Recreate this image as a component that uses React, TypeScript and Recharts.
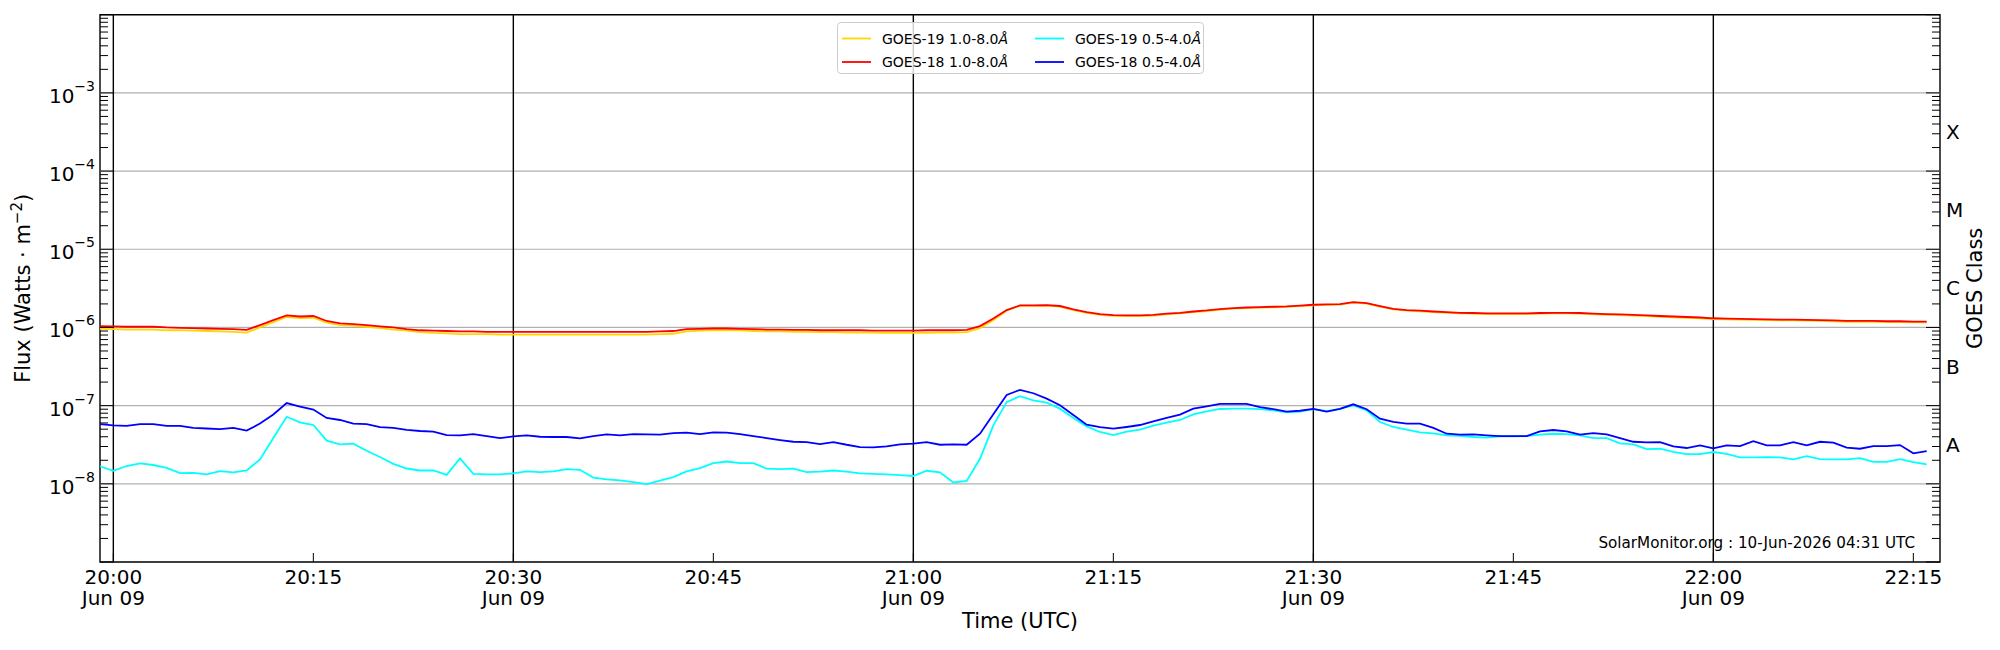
import React from "react";
import { LineChart, Line, XAxis, YAxis, ReferenceLine, ReferenceArea, Legend } from "recharts";

const FONT = "'DejaVu Sans', Verdana, sans-serif";

// Sample times (UTC, 09 Jun), 1-minute cadence
const TIMES = [
  "19:59",
  "20:00", "20:01", "20:02", "20:03", "20:04", "20:05", "20:06", "20:07", "20:08", "20:09",
  "20:10", "20:11", "20:12", "20:13", "20:14", "20:15", "20:16", "20:17", "20:18", "20:19",
  "20:20", "20:21", "20:22", "20:23", "20:24", "20:25", "20:26", "20:27", "20:28", "20:29",
  "20:30", "20:31", "20:32", "20:33", "20:34", "20:35", "20:36", "20:37", "20:38", "20:39",
  "20:40", "20:41", "20:42", "20:43", "20:44", "20:45", "20:46", "20:47", "20:48", "20:49",
  "20:50", "20:51", "20:52", "20:53", "20:54", "20:55", "20:56", "20:57", "20:58", "20:59",
  "21:00", "21:01", "21:02", "21:03", "21:04", "21:05", "21:06", "21:07", "21:08", "21:09",
  "21:10", "21:11", "21:12", "21:13", "21:14", "21:15", "21:16", "21:17", "21:18", "21:19",
  "21:20", "21:21", "21:22", "21:23", "21:24", "21:25", "21:26", "21:27", "21:28", "21:29",
  "21:30", "21:31", "21:32", "21:33", "21:34", "21:35", "21:36", "21:37", "21:38", "21:39",
  "21:40", "21:41", "21:42", "21:43", "21:44", "21:45", "21:46", "21:47", "21:48", "21:49",
  "21:50", "21:51", "21:52", "21:53", "21:54", "21:55", "21:56", "21:57", "21:58", "21:59",
  "22:00", "22:01", "22:02", "22:03", "22:04", "22:05", "22:06", "22:07", "22:08", "22:09",
  "22:10", "22:11", "22:12", "22:13", "22:14", "22:15", "22:16",
];

// GOES-19 1.0-8.0 Å (W m^-2)
const GOES19_LONG = [
  9.6e-7, 9.5e-7, 9.4e-7, 9.4e-7, 9.4e-7, 9.2e-7, 9.15e-7, 9.1e-7, 9.0e-7, 8.9e-7,
  8.8e-7, 8.6e-7, 1.0e-6, 1.17e-6, 1.36e-6, 1.32e-6, 1.33e-6, 1.15e-6, 1.07e-6, 1.05e-6,
  1.02e-6, 9.8e-7, 9.4e-7, 9.1e-7, 8.7e-7, 8.5e-7, 8.4e-7, 8.2e-7, 8.2e-7, 8.2e-7,
  8.1e-7, 8.1e-7, 8.1e-7, 8.1e-7, 8.1e-7, 8.1e-7, 8.1e-7, 8.1e-7, 8.1e-7, 8.1e-7,
  8.1e-7, 8.1e-7, 8.2e-7, 8.3e-7, 8.9e-7, 9.1e-7, 9.2e-7, 9.2e-7, 9.15e-7, 9.0e-7,
  8.9e-7, 8.9e-7, 8.8e-7, 8.8e-7, 8.7e-7, 8.7e-7, 8.6e-7, 8.6e-7, 8.6e-7, 8.5e-7,
  8.5e-7, 8.5e-7, 8.5e-7, 8.6e-7, 8.6e-7, 8.7e-7, 9.8e-7, 1.24e-6, 1.64e-6, 1.9e-6,
  1.89e-6, 1.9e-6, 1.85e-6, 1.67e-6, 1.54e-6, 1.45e-6, 1.41e-6, 1.4e-6, 1.4e-6, 1.42e-6,
  1.47e-6, 1.51e-6, 1.57e-6, 1.62e-6, 1.69e-6, 1.74e-6, 1.77e-6, 1.79e-6, 1.81e-6, 1.83e-6,
  1.87e-6, 1.92e-6, 1.94e-6, 1.96e-6, 2.08e-6, 2.02e-6, 1.85e-6, 1.7e-6, 1.64e-6, 1.61e-6,
  1.57e-6, 1.54e-6, 1.51e-6, 1.5e-6, 1.48e-6, 1.48e-6, 1.48e-6, 1.48e-6, 1.5e-6, 1.51e-6,
  1.51e-6, 1.5e-6, 1.47e-6, 1.45e-6, 1.44e-6, 1.42e-6, 1.4e-6, 1.37e-6, 1.35e-6, 1.33e-6,
  1.31e-6, 1.28e-6, 1.27e-6, 1.26e-6, 1.25e-6, 1.24e-6, 1.23e-6, 1.23e-6, 1.22e-6, 1.21e-6,
  1.2e-6, 1.18e-6, 1.18e-6, 1.18e-6, 1.17e-6, 1.17e-6, 1.16e-6, 1.16e-6,
];

// GOES-18 1.0-8.0 Å (W m^-2)
const GOES18_LONG = [
  1.04e-6, 1.03e-6, 1.02e-6, 1.02e-6, 1.02e-6, 1.0e-6, 9.9e-7, 9.8e-7, 9.7e-7, 9.6e-7,
  9.5e-7, 9.3e-7, 1.07e-6, 1.24e-6, 1.43e-6, 1.38e-6, 1.4e-6, 1.21e-6, 1.13e-6, 1.1e-6,
  1.07e-6, 1.03e-6, 1.0e-6, 9.5e-7, 9.2e-7, 9.1e-7, 9.0e-7, 8.9e-7, 8.9e-7, 8.8e-7,
  8.8e-7, 8.8e-7, 8.8e-7, 8.8e-7, 8.8e-7, 8.8e-7, 8.8e-7, 8.8e-7, 8.8e-7, 8.8e-7,
  8.8e-7, 8.8e-7, 8.9e-7, 9.0e-7, 9.5e-7, 9.6e-7, 9.7e-7, 9.7e-7, 9.6e-7, 9.5e-7,
  9.4e-7, 9.4e-7, 9.3e-7, 9.3e-7, 9.2e-7, 9.2e-7, 9.2e-7, 9.2e-7, 9.1e-7, 9.1e-7,
  9.1e-7, 9.1e-7, 9.2e-7, 9.2e-7, 9.2e-7, 9.3e-7, 1.04e-6, 1.3e-6, 1.67e-6, 1.91e-6,
  1.91e-6, 1.93e-6, 1.88e-6, 1.7e-6, 1.57e-6, 1.48e-6, 1.44e-6, 1.43e-6, 1.43e-6, 1.45e-6,
  1.5e-6, 1.54e-6, 1.6e-6, 1.65e-6, 1.72e-6, 1.77e-6, 1.8e-6, 1.82e-6, 1.84e-6, 1.86e-6,
  1.9e-6, 1.95e-6, 1.97e-6, 1.99e-6, 2.11e-6, 2.05e-6, 1.88e-6, 1.73e-6, 1.67e-6, 1.64e-6,
  1.6e-6, 1.57e-6, 1.54e-6, 1.53e-6, 1.51e-6, 1.51e-6, 1.51e-6, 1.51e-6, 1.53e-6, 1.54e-6,
  1.54e-6, 1.53e-6, 1.5e-6, 1.48e-6, 1.47e-6, 1.45e-6, 1.43e-6, 1.4e-6, 1.38e-6, 1.36e-6,
  1.34e-6, 1.31e-6, 1.3e-6, 1.29e-6, 1.28e-6, 1.27e-6, 1.26e-6, 1.26e-6, 1.25e-6, 1.24e-6,
  1.23e-6, 1.21e-6, 1.21e-6, 1.21e-6, 1.2e-6, 1.2e-6, 1.19e-6, 1.19e-6,
];

// GOES-19 0.5-4.0 Å (W m^-2)
const GOES19_SHORT = [
  1.67e-8, 1.47e-8, 1.69e-8, 1.82e-8, 1.74e-8, 1.6e-8, 1.37e-8, 1.38e-8, 1.32e-8, 1.45e-8,
  1.4e-8, 1.48e-8, 2.05e-8, 3.85e-8, 7.2e-8, 6.1e-8, 5.65e-8, 3.56e-8, 3.2e-8, 3.26e-8,
  2.65e-8, 2.2e-8, 1.8e-8, 1.57e-8, 1.48e-8, 1.48e-8, 1.3e-8, 2.11e-8, 1.34e-8, 1.32e-8,
  1.32e-8, 1.36e-8, 1.44e-8, 1.41e-8, 1.44e-8, 1.54e-8, 1.51e-8, 1.2e-8, 1.14e-8, 1.11e-8,
  1.05e-8, 9.9e-9, 1.1e-8, 1.22e-8, 1.44e-8, 1.59e-8, 1.84e-8, 1.93e-8, 1.84e-8, 1.84e-8,
  1.56e-8, 1.54e-8, 1.56e-8, 1.41e-8, 1.43e-8, 1.48e-8, 1.43e-8, 1.36e-8, 1.34e-8, 1.32e-8,
  1.29e-8, 1.26e-8, 1.47e-8, 1.4e-8, 1.04e-8, 1.09e-8, 2.09e-8, 5.6e-8, 1.11e-7, 1.32e-7,
  1.17e-7, 1.09e-7, 9.15e-8, 6.95e-8, 5.43e-8, 4.6e-8, 4.21e-8, 4.64e-8, 4.93e-8, 5.54e-8,
  6.06e-8, 6.55e-8, 7.74e-8, 8.46e-8, 9.06e-8, 9.15e-8, 9.15e-8, 9.0e-8, 8.7e-8, 8.2e-8,
  8.4e-8, 9.0e-8, 8.5e-8, 9.06e-8, 1.01e-7, 8.7e-8, 6.17e-8, 5.33e-8, 4.93e-8, 4.55e-8,
  4.42e-8, 4.17e-8, 4.12e-8, 3.97e-8, 3.89e-8, 4.04e-8, 4.04e-8, 4.08e-8, 4.25e-8, 4.37e-8,
  4.33e-8, 4.17e-8, 3.85e-8, 3.85e-8, 3.29e-8, 3.19e-8, 2.78e-8, 2.81e-8, 2.57e-8, 2.4e-8,
  2.4e-8, 2.55e-8, 2.42e-8, 2.18e-8, 2.18e-8, 2.2e-8, 2.18e-8, 2.05e-8, 2.26e-8, 2.07e-8,
  2.05e-8, 2.05e-8, 2.13e-8, 1.91e-8, 1.91e-8, 2.07e-8, 1.89e-8, 1.77e-8,
];

// GOES-18 0.5-4.0 Å (W m^-2)
const GOES18_SHORT = [
  5.8e-8, 5.6e-8, 5.5e-8, 5.8e-8, 5.8e-8, 5.5e-8, 5.5e-8, 5.2e-8, 5.1e-8, 5.0e-8,
  5.2e-8, 4.8e-8, 5.9e-8, 7.7e-8, 1.08e-7, 9.7e-8, 8.9e-8, 6.95e-8, 6.55e-8, 5.9e-8,
  5.8e-8, 5.3e-8, 5.2e-8, 4.9e-8, 4.74e-8, 4.64e-8, 4.2e-8, 4.17e-8, 4.33e-8, 4.08e-8,
  3.85e-8, 4.04e-8, 4.17e-8, 4.0e-8, 3.97e-8, 3.97e-8, 3.81e-8, 4.08e-8, 4.29e-8, 4.17e-8,
  4.33e-8, 4.29e-8, 4.25e-8, 4.46e-8, 4.51e-8, 4.33e-8, 4.55e-8, 4.51e-8, 4.33e-8, 4.08e-8,
  3.85e-8, 3.63e-8, 3.45e-8, 3.42e-8, 3.22e-8, 3.42e-8, 3.16e-8, 2.95e-8, 2.92e-8, 3.01e-8,
  3.19e-8, 3.26e-8, 3.42e-8, 3.16e-8, 3.19e-8, 3.16e-8, 4.37e-8, 7.74e-8, 1.37e-7, 1.59e-7,
  1.44e-7, 1.23e-7, 1.01e-7, 7.6e-8, 5.7e-8, 5.3e-8, 5.07e-8, 5.33e-8, 5.65e-8, 6.3e-8,
  6.95e-8, 7.67e-8, 9.15e-8, 9.8e-8, 1.05e-7, 1.05e-7, 1.05e-7, 9.6e-8, 9.0e-8, 8.4e-8,
  8.6e-8, 9.1e-8, 8.4e-8, 9.1e-8, 1.04e-7, 9.0e-8, 6.8e-8, 6.2e-8, 5.9e-8, 5.9e-8,
  5.2e-8, 4.37e-8, 4.25e-8, 4.29e-8, 4.17e-8, 4.08e-8, 4.08e-8, 4.08e-8, 4.69e-8, 4.88e-8,
  4.69e-8, 4.25e-8, 4.46e-8, 4.29e-8, 3.85e-8, 3.45e-8, 3.39e-8, 3.42e-8, 3.01e-8, 2.87e-8,
  3.1e-8, 2.84e-8, 3.1e-8, 3.04e-8, 3.52e-8, 3.1e-8, 3.1e-8, 3.42e-8, 3.1e-8, 3.45e-8,
  3.36e-8, 2.9e-8, 2.81e-8, 3.04e-8, 3.04e-8, 3.13e-8, 2.45e-8, 2.62e-8,
];

const SERIES = [
  { key: "g19l", name: "GOES-19 1.0-8.0Å", color: "#FFD700", values: GOES19_LONG },
  { key: "g18l", name: "GOES-18 1.0-8.0Å", color: "#FF0000", values: GOES18_LONG },
  { key: "g19s", name: "GOES-19 0.5-4.0Å", color: "#00FFFF", values: GOES19_SHORT },
  { key: "g18s", name: "GOES-18 0.5-4.0Å", color: "#0000FF", values: GOES18_SHORT },
];

// x axis: minutes after 20:00 UTC
const X_DOMAIN = [-1, 137];
const X_TICKS = [0, 15, 30, 45, 60, 75, 90, 105, 120, 135];
const X_TICK_LABELS = ["20:00", "20:15", "20:30", "20:45", "21:00", "21:15", "21:30", "21:45", "22:00", "22:15"];
const X_TICK_DATES = ["Jun 09", "", "Jun 09", "", "Jun 09", "", "Jun 09", "", "Jun 09", ""];
const DAY_LINES = [0, 30, 60, 90, 120];

// y axis (log)
const Y_DOMAIN = [1e-9, 1e-2];
const Y_MAJOR = [1e-9, 1e-8, 1e-7, 1e-6, 1e-5, 1e-4, 1e-3, 1e-2];
const Y_LABELLED = [1e-8, 1e-7, 1e-6, 1e-5, 1e-4, 1e-3];
const Y_LABEL_EXP = ["−8", "−7", "−6", "−5", "−4", "−3"];
const MINOR_MANTISSAS = [2, 3, 4, 5, 6, 7, 8, 9];
const Y_MINOR = Y_MAJOR.slice(0, -1).flatMap((d) => MINOR_MANTISSAS.map((m) => m * d));
const GOES_CLASSES = ["A", "B", "C", "M", "X"];
const GOES_CLASS_POS = [3.162e-8, 3.162e-7, 3.162e-6, 3.162e-5, 3.162e-4];

const LEFT_TICKS = [...Y_MAJOR, ...Y_MINOR];
const RIGHT_TICKS = [...Y_MAJOR, ...Y_MINOR, ...GOES_CLASS_POS];

const toMinutes = (s: string) => {
  const [h, m] = s.split(":").map(Number);
  return h * 60 + m - 20 * 60;
};

const DATA = TIMES.map((s, i) => {
  const row: Record<string, number> = { t: toMinutes(s) };
  SERIES.forEach((ser) => {
    row[ser.key] = ser.values[i];
  });
  return row;
});

const renderLeftTick = (props: any) => {
  const { x, y, payload } = props;
  const v = payload.value;
  const major = Y_MAJOR.includes(v);
  const li = Y_LABELLED.indexOf(v);
  return (
    <g>
      <line x1={x} x2={x + (major ? 14 : 8)} y1={y} y2={y} stroke="#000" strokeWidth={1} />
      {li >= 0 && (
        <text x={x - 5} y={y + 10} textAnchor="end" fontSize={20} fontFamily={FONT} fill="#000">
          10
          <tspan dy={-12} fontSize={14}>
            {Y_LABEL_EXP[li]}
          </tspan>
        </text>
      )}
    </g>
  );
};

const renderRightTick = (props: any) => {
  const { x, y, payload } = props;
  const v = payload.value;
  const ci = GOES_CLASS_POS.indexOf(v);
  if (ci >= 0) {
    return (
      <text x={x + 6} y={y} dominantBaseline="central" fontSize={20} fontFamily={FONT} fill="#000">
        {GOES_CLASSES[ci]}
      </text>
    );
  }
  const major = Y_MAJOR.includes(v);
  return <line x1={x - (major ? 14 : 8)} x2={x} y1={y} y2={y} stroke="#000" strokeWidth={1} />;
};

const renderBottomTick = (props: any) => {
  const { x, y, payload } = props;
  const i = X_TICKS.indexOf(payload.value);
  return (
    <g>
      <line x1={x} x2={x} y1={y} y2={y - 9} stroke="#000" strokeWidth={1} />
      <text x={x} y={y + 22} textAnchor="middle" fontSize={20} fontFamily={FONT} fill="#000">
        {X_TICK_LABELS[i]}
      </text>
      {X_TICK_DATES[i] && (
        <text x={x} y={y + 43} textAnchor="middle" fontSize={20} fontFamily={FONT} fill="#000">
          {X_TICK_DATES[i]}
        </text>
      )}
    </g>
  );
};

const renderTimeLabel = (props: any) => {
  const { x, y, width } = props.viewBox;
  return (
    <g>
      <text x={x + width / 2} y={y + 66} textAnchor="middle" fontSize={21} fontFamily={FONT} fill="#000">
        Time (UTC)
      </text>
      <text x={x + width - 25} y={y - 14} textAnchor="end" fontSize={15.2} fontFamily={FONT} fill="#000">
        SolarMonitor.org : 10-Jun-2026 04:31 UTC
      </text>
    </g>
  );
};

const renderFluxLabel = (props: any) => {
  const { x, y, height } = props.viewBox;
  const cx = x + 22;
  const cy = y + height / 2;
  return (
    <text
      x={cx}
      y={cy}
      transform={`rotate(-90 ${cx} ${cy})`}
      textAnchor="middle"
      fontSize={21}
      fontFamily={FONT}
      fill="#000"
    >
      Flux (Watts · m
      <tspan dy={-8} fontSize={15}>
        −2
      </tspan>
      <tspan dy={8}>)</tspan>
    </text>
  );
};

const renderClassLabel = (props: any) => {
  const { x, y, height } = props.viewBox;
  const cx = x + 42;
  const cy = y + height / 2;
  return (
    <text
      x={cx}
      y={cy}
      transform={`rotate(-90 ${cx} ${cy})`}
      textAnchor="middle"
      fontSize={21}
      fontFamily={FONT}
      fill="#000"
    >
      GOES Class
    </text>
  );
};

const LegendBox = () => {
  const cols = [4, 197];
  const rows = [15.5, 39];
  return (
    <div
      style={{
        width: 367,
        height: 52,
        boxSizing: "border-box",
        border: "1px solid #cccccc",
        borderRadius: 4,
        background: "rgba(255,255,255,0.8)",
        position: "relative",
      }}
    >
      <svg width={365} height={50} style={{ position: "absolute", left: 0, top: 0 }}>
        {SERIES.map((s, i) => {
          const cx = cols[Math.floor(i / 2)];
          const cy = rows[i % 2];
          const base = s.name.slice(0, -1);
          const unit = s.name.slice(-1);
          return (
            <g key={s.key}>
              <line x1={cx} x2={cx + 29} y1={cy} y2={cy} stroke={s.color} strokeWidth={1.8} />
              <text x={cx + 40} y={cy + 5} fontSize={14} fontFamily={FONT} fill="#000">
                {base}
                <tspan fontStyle="italic">{unit}</tspan>
              </text>
            </g>
          );
        })}
      </svg>
    </div>
  );
};

export default function App() {
  return (
    <div style={{ width: 1984, height: 630, fontFamily: FONT }}>
      <LineChart width={1984} height={630} data={DATA} margin={{ top: 6.7, right: 0, bottom: 0, left: 0 }}>
        <XAxis
          dataKey="t"
          type="number"
          domain={X_DOMAIN}
          allowDataOverflow
          ticks={X_TICKS}
          interval={0}
          tickSize={0}
          tickMargin={0}
          tickLine={false}
          axisLine={false}
          height={76}
          tick={renderBottomTick}
          label={renderTimeLabel}
        />
        <YAxis
          yAxisId="left"
          orientation="left"
          type="number"
          scale="log"
          domain={Y_DOMAIN}
          allowDataOverflow
          ticks={LEFT_TICKS}
          interval={0}
          tickSize={0}
          tickMargin={0}
          tickLine={false}
          axisLine={false}
          width={92}
          tick={renderLeftTick}
          label={renderFluxLabel}
        />
        <YAxis
          yAxisId="right"
          orientation="right"
          type="number"
          scale="log"
          domain={Y_DOMAIN}
          allowDataOverflow
          ticks={RIGHT_TICKS}
          interval={0}
          tickSize={0}
          tickMargin={0}
          tickLine={false}
          axisLine={false}
          width={52}
          tick={renderRightTick}
          label={renderClassLabel}
        />
        {Y_LABELLED.map((v) => (
          <ReferenceLine key={`g${v}`} yAxisId="left" y={v} stroke="#b0b0b0" strokeWidth={1.2} />
        ))}
        {DAY_LINES.map((t) => (
          <ReferenceLine key={`d${t}`} yAxisId="left" x={t} stroke="#000" strokeWidth={1.4} />
        ))}
        {SERIES.map((s) => (
          <Line
            key={s.key}
            yAxisId="left"
            type="linear"
            dataKey={s.key}
            name={s.name}
            stroke={s.color}
            strokeWidth={1.8}
            dot={false}
            activeDot={false}
            isAnimationActive={false}
          />
        ))}
        <ReferenceArea
          yAxisId="left"
          x1={X_DOMAIN[0]}
          x2={X_DOMAIN[1]}
          y1={Y_DOMAIN[0]}
          y2={Y_DOMAIN[1]}
          fill="none"
          stroke="#000"
          strokeWidth={1.4}
          ifOverflow="visible"
        />
        <Legend
          layout="horizontal"
          verticalAlign="middle"
          align="center"
          wrapperStyle={{ left: 829, top: 14, width: 367, height: 52 }}
          content={() => <LegendBox />}
        />
      </LineChart>
    </div>
  );
}
